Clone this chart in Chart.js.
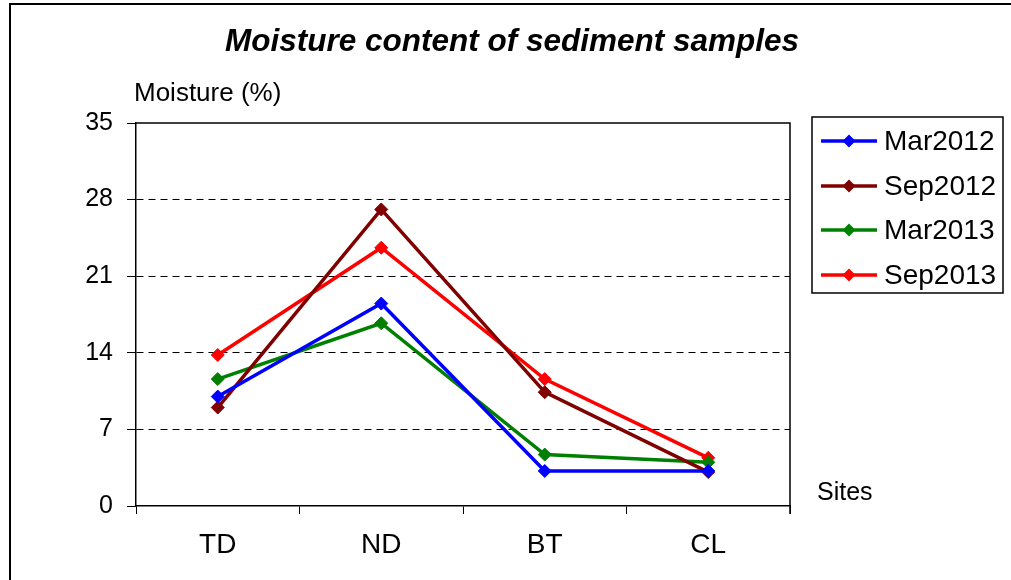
<!DOCTYPE html>
<html>
<head>
<meta charset="utf-8">
<script src="https://cdn.jsdelivr.net/npm/chart.js@4/dist/chart.umd.min.js"></script>
<style>
  html, body { margin: 0; padding: 0; background: #fff; }
  #wrap { width: 1011px; height: 580px; position: relative; }
</style>
</head>
<body>
<div id="wrap"><canvas id="moistChart" width="1011" height="580"></canvas></div>
<script>
// --- DATA ---
const sites = ["TD", "ND", "BT", "CL"];
const seriesNames = ["Mar2012", "Sep2012", "Mar2013", "Sep2013"];
const mar2012 = [10.0, 18.5, 3.2, 3.2];
const sep2012 = [9.0, 27.1, 10.4, 3.1];
const mar2013 = [11.6, 16.7, 4.7, 4.0];
const sep2013 = [13.8, 23.6, 11.6, 4.4];
const yTicks = [0, 7, 14, 21, 28, 35];
const lineColors = ["#0000ff", "#800000", "#008000", "#ff0000"];

const FONT = "'Liberation Sans', Arial, sans-serif";

function makeSet(label, data, color) {
    return {
        label: label,
        data: data,
        borderColor: color,
        backgroundColor: color,
        borderWidth: 3.5,
        pointStyle: 'rectRot',
        pointRadius: 6.5,
        pointHoverRadius: 6.5,
        pointBorderWidth: 1,
        tension: 0
    };
}

const allSeries = [mar2012, sep2012, mar2013, sep2013];
const datasets = allSeries.map((d, i) => makeSet(seriesNames[i], d, lineColors[i]));

// custom drawing: outer frame, title, axis titles, plot box, legend box
const decorPlugin = {
    id: 'decor',
    beforeDraw(chart) {
        const ctx = chart.ctx;
        ctx.save();
        ctx.fillStyle = '#fff';
        ctx.fillRect(0, 0, chart.width, chart.height);
        ctx.strokeStyle = '#000';
        ctx.lineWidth = 2;
        ctx.strokeRect(10, 4, chart.width + 20, chart.height + 20);
        ctx.restore();
    },
    afterDraw(chart) {
        const ctx = chart.ctx;
        const a = chart.chartArea;
        ctx.save();
        // plot box top/right
        ctx.strokeStyle = '#000';
        ctx.lineWidth = 1.5;
        ctx.beginPath();
        ctx.moveTo(a.left, a.top);
        ctx.lineTo(a.right, a.top);
        ctx.lineTo(a.right, a.bottom + 8);
        ctx.stroke();

        ctx.fillStyle = '#000';
        ctx.textBaseline = 'middle';
        ctx.textAlign = 'center';
        ctx.font = "italic bold 31.5px " + FONT;
        ctx.fillText("Moisture content of sediment samples", 512, 42);

        ctx.textAlign = 'left';
        ctx.textBaseline = 'alphabetic';
        ctx.font = "26px " + FONT;
        ctx.fillText("Moisture (%)", 134, 101);
        ctx.font = "25px " + FONT;
        ctx.fillText("Sites", 817, 500);

        // legend box
        ctx.lineWidth = 1.5;
        ctx.strokeRect(812, 117, 191, 176);
        const rowY = [141, 186, 230, 275];
        chart.data.datasets.forEach((ds, i) => {
            const y = rowY[i];
            ctx.strokeStyle = ds.borderColor;
            ctx.lineWidth = 3.5;
            ctx.beginPath();
            ctx.moveTo(821, y);
            ctx.lineTo(877, y);
            ctx.stroke();
            ctx.fillStyle = ds.borderColor;
            ctx.beginPath();
            ctx.moveTo(849, y - 6.5);
            ctx.lineTo(855.5, y);
            ctx.lineTo(849, y + 6.5);
            ctx.lineTo(842.5, y);
            ctx.closePath();
            ctx.fill();
            ctx.fillStyle = '#000';
            ctx.font = "28px " + FONT;
            ctx.textBaseline = 'middle';
            ctx.fillText(ds.label, 884, y + 1);
        });
        ctx.restore();
    }
};

new Chart(document.getElementById('moistChart'), {
    type: 'line',
    data: { labels: sites, datasets: datasets },
    plugins: [decorPlugin],
    options: {
        responsive: false,
        animation: false,
        layout: { padding: { left: 0, top: 123, right: 221, bottom: 0 } },
        plugins: {
            legend: { display: false },
            title: { display: false },
            tooltip: { enabled: false }
        },
        scales: {
            x: {
                offset: true,
                grid: {
                    offset: true,
                    drawOnChartArea: false,
                    drawTicks: true,
                    tickLength: 8,
                    color: '#000',
                    lineWidth: 1
                },
                border: { display: true, color: '#000', width: 1.5 },
                ticks: {
                    color: '#000',
                    font: { family: FONT, size: 28 },
                    padding: 14,
                    maxRotation: 0
                },
                afterFit(scale) { scale.height = 74; }
            },
            y: {
                min: 0,
                max: 35,
                afterBuildTicks(scale) { scale.ticks = yTicks.map(v => ({ value: v })); },
                grid: {
                    color: ctx => (ctx.tick && (ctx.tick.value === 0 || ctx.tick.value === 35)) ? 'rgba(0,0,0,0)' : '#000',
                    tickColor: '#000',
                    lineWidth: 1,
                    tickLength: 9,
                    drawTicks: true
                },
                border: { display: true, color: '#000', width: 1.5, dash: [7, 5] },
                ticks: {
                    color: '#000',
                    font: { family: FONT, size: 25 },
                    padding: 14
                },
                afterFit(scale) { scale.width = 136; }
            }
        }
    }
});
</script>
</body>
</html>
